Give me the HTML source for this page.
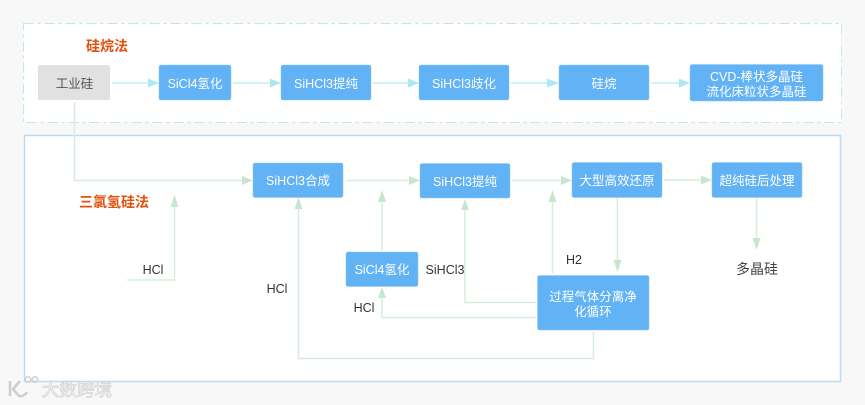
<!DOCTYPE html>
<html><head><meta charset="utf-8">
<style>
html,body{margin:0;padding:0;background:#f8f8f8;}
svg{display:block;filter:blur(0.35px);}
text{font-family:"Liberation Sans","Noto Sans CJK SC",sans-serif;}
.n{font-size:12.5px;fill:#fff;text-anchor:middle;}
.l{font-size:12.5px;fill:#333;text-anchor:middle;}
.t{font-size:14px;fill:#e2500f;font-weight:bold;text-anchor:middle;}
.b{fill:#62b2f6;stroke:#8cc6f8;stroke-width:0.5;}
.c{fill:none;stroke:#d5edd9;stroke-width:1.5;}
.d{fill:none;stroke:#c0eff2;stroke-width:1.5;}
.ag{fill:#c6e7cd;}
.ac{fill:#aee8ef;}
</style></head>
<body>
<svg width="865" height="405" viewBox="0 0 865 405" xmlns="http://www.w3.org/2000/svg">
<rect width="865" height="405" fill="#f8f8f8"/>
<rect x="23.5" y="23.5" width="818" height="99" fill="#fff" stroke="#bdeae8" stroke-width="1" stroke-dasharray="10 4 3 4"/>
<rect x="24.5" y="135.5" width="816" height="246" fill="#fff" stroke="#bcdcf6" stroke-width="1.5"/>

<text class="t" x="107" y="51">硅烷法</text>
<text class="t" x="114" y="207">三氯氢硅法</text>

<!-- top connectors -->
<path class="d" d="M112 83H150M233 83H272M373 83H410M511 83H550M651 83H681"/>
<path class="ac" d="M148 78.500L159 83L148 87.500ZM270 78.500L281 83L270 87.500ZM408 78.500L419 83L408 87.500ZM547 78.500L559 83L547 87.500ZM679 78.500L690 83L679 87.500Z"/>

<!-- lower connectors -->
<path class="c" d="M74.500 102V180.500H245"/>
<path class="c" d="M346 180.500H412M512 180.500H563M664 180H703"/>
<path class="c" d="M127 280H174.500V205"/>
<path class="c" d="M593.500 332V358.500H298.500V205"/>
<path class="c" d="M382 250V198"/>
<path class="c" d="M536 317.500H382V296"/>
<path class="c" d="M536 302.500H465V208"/>
<path class="c" d="M552.500 273V198"/>
<path class="c" d="M617.500 198V264"/>
<path class="c" d="M756.500 198V240"/>
<path class="ag" d="M242 176L253 180.500L242 185ZM409 176L420 180.500L409 185ZM561 176L572 180.500L561 185ZM701 175.500L712 180L701 184.500Z"/>
<path class="ag" d="M170.500 207L174.500 195L178.500 207ZM294.500 209L298.500 197.500L302.500 209ZM378 202L382 190L386 202ZM461 210L465 199L469 210ZM548.500 202L552.500 190L556.500 202ZM378 298L382 287L386 298Z"/>
<path class="ag" d="M613.500 260L617.500 272L621.500 260ZM752.500 238L756.500 250L760.500 238Z"/>

<!-- nodes -->
<rect x="38" y="65" width="72" height="35" rx="2" fill="#e1e1e1"/>
<text x="74.500" y="88" font-size="12.500" fill="#555" text-anchor="middle">工业硅</text>
<rect class="b" x="159" y="65" width="72" height="35" rx="2"/>
<text class="n" x="195" y="88">SiCl4氢化</text>
<rect class="b" x="281" y="65" width="90" height="35" rx="2"/>
<text class="n" x="326" y="88">SiHCl3提纯</text>
<rect class="b" x="419" y="65" width="90" height="35" rx="2"/>
<text class="n" x="464" y="88">SiHCl3歧化</text>
<rect class="b" x="559" y="65" width="90" height="35" rx="2"/>
<text class="n" x="604" y="88">硅烷</text>
<rect class="b" x="690" y="64.500" width="133" height="36.500" rx="2"/>
<text class="n" x="756.500" y="81">CVD-棒状多晶硅</text>
<text class="n" x="756.500" y="96">流化床粒状多晶硅</text>

<rect class="b" x="253" y="163" width="90" height="34.500" rx="2"/>
<text class="n" x="298" y="185">SiHCl3合成</text>
<rect class="b" x="420" y="163.500" width="90" height="34.500" rx="2"/>
<text class="n" x="465" y="186">SiHCl3提纯</text>
<rect class="b" x="572" y="162.500" width="90" height="35" rx="2"/>
<text class="n" x="617" y="185">大型高效还原</text>
<rect class="b" x="712" y="162.500" width="90" height="35" rx="2"/>
<text class="n" x="757" y="185">超纯硅后处理</text>
<rect class="b" x="346" y="252" width="72" height="34.500" rx="2"/>
<text class="n" x="382" y="274">SiCl4氢化</text>
<rect class="b" x="537.500" y="275.500" width="111.500" height="54.500" rx="2"/>
<text class="n" x="593" y="301">过程气体分离净</text>
<text class="n" x="593" y="316">化循环</text>

<!-- labels -->
<text class="l" x="153" y="274">HCl</text>
<text class="l" x="277" y="293">HCl</text>
<text class="l" x="364" y="312">HCl</text>
<text class="l" x="445" y="274">SiHCl3</text>
<text class="l" x="574" y="264">H2</text>
<text x="757" y="274" font-size="14" fill="#444" text-anchor="middle">多晶硅</text>

<!-- watermark -->
<g fill="none" stroke="#cfcfcf" stroke-width="2.600">
<path d="M10 381V396"/><path d="M20 381L13 389L19 396Q24 397 27 392"/>
<circle cx="28" cy="379.500" r="2.800" stroke-width="1.500"/><circle cx="35" cy="379.500" r="2.800" stroke-width="1.500"/>
</g>
<text x="42" y="396" font-size="17.500" fill="#ececec" stroke="#bdbdbd" stroke-width="0.700" paint-order="stroke">大数跨境</text>
</svg>
</body></html>
